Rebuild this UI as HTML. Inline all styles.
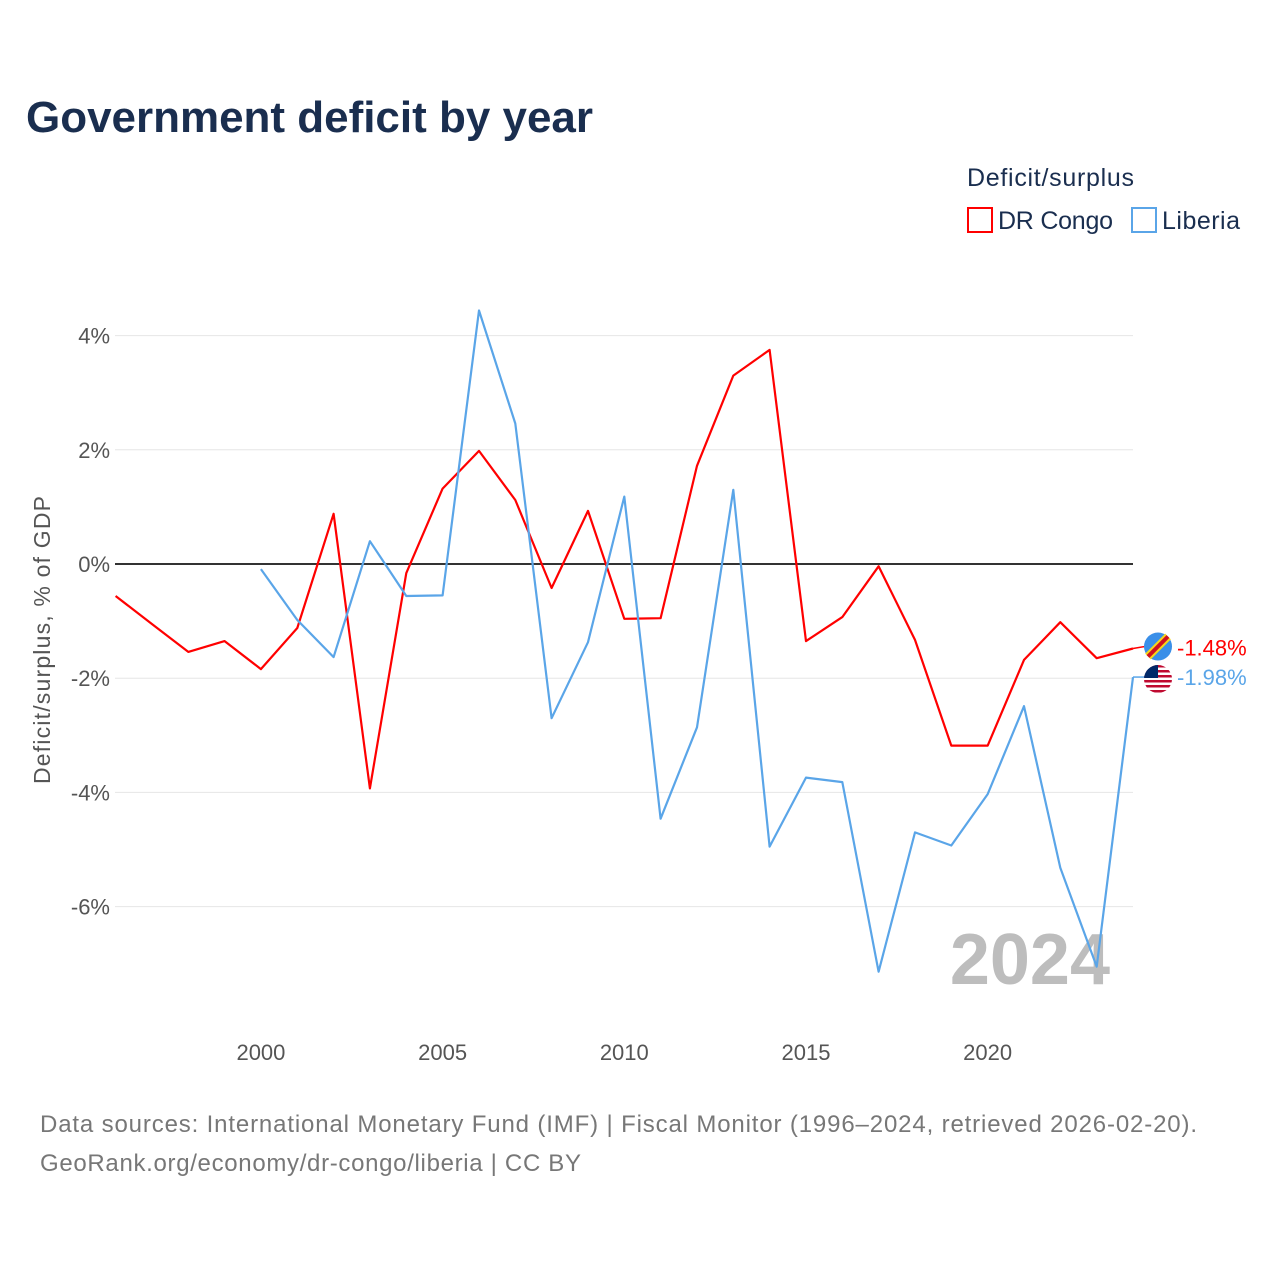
<!DOCTYPE html>
<html><head><meta charset="utf-8"><style>
body{margin:0;background:#fff;font-family:"Liberation Sans",sans-serif;}
</style></head><body>
<svg width="1280" height="1280" xmlns="http://www.w3.org/2000/svg" style="font-family:'Liberation Sans',sans-serif">
<defs><clipPath id="lbclip"><circle cx="1158" cy="679" r="14"/></clipPath></defs>
<rect width="1280" height="1280" fill="#fff"/>
<text x="26" y="132" font-size="44" font-weight="bold" fill="#1a2e4f" textLength="567">Government deficit by year</text>
<text x="967" y="186" font-size="25" fill="#1a2e4f" textLength="167">Deficit/surplus</text>
<g><rect x="968" y="208" width="24" height="24" fill="none" stroke="#ff0000" stroke-width="2"/><text x="998" y="229" font-size="25" fill="#1a2e4f" textLength="115">DR Congo</text></g>
<g><rect x="1132" y="208" width="24" height="24" fill="none" stroke="#5aa5e8" stroke-width="2"/><text x="1162" y="229" font-size="25" fill="#1a2e4f" textLength="78">Liberia</text></g>
<g id="grid"></g>
<text transform="translate(50,640) rotate(-90)" text-anchor="middle" font-size="23" fill="#555" textLength="288">Deficit/surplus, % of GDP</text>
<text x="1110" y="984" text-anchor="end" font-size="72" font-weight="bold" fill="#bdbdbd">2024</text>
<g id="series"></g>
<text x="40" y="1132" font-size="24" fill="#777" textLength="1157">Data sources: International Monetary Fund (IMF) | Fiscal Monitor (1996–2024, retrieved 2026-02-20).</text>
<text x="40" y="1171" font-size="24" fill="#777" textLength="541">GeoRank.org/economy/dr-congo/liberia | CC BY</text>
</svg>
<script>
const years=[1996,1997,1998,1999,2000,2001,2002,2003,2004,2005,2006,2007,2008,2009,2010,2011,2012,2013,2014,2015,2016,2017,2018,2019,2020,2021,2022,2023,2024];
const drCongo=[-0.56,-1.05,-1.54,-1.35,-1.84,-1.12,0.88,-3.93,-0.16,1.32,1.98,1.12,-0.42,0.93,-0.96,-0.95,1.72,3.30,3.75,-1.35,-0.93,-0.04,-1.33,-3.18,-3.18,-1.68,-1.02,-1.65,-1.48];
const liberia=[null,null,null,null,-0.09,-0.98,-1.63,0.40,-0.56,-0.55,4.44,2.46,-2.70,-1.37,1.18,-4.46,-2.86,1.30,-4.95,-3.74,-3.82,-7.14,-4.70,-4.93,-4.03,-2.49,-5.32,-7.05,-1.98];
const yTicks=[4,2,0,-2,-4,-6];
const xTicks=[2000,2005,2010,2015,2020];
const NS="http://www.w3.org/2000/svg";
const x=v=>115.6+(v-1996)*(1133-115.6)/28;
const y=v=>564-v*57.1;
function mk(t,a,p){const e=document.createElementNS(NS,t);for(const k in a)e.setAttribute(k,a[k]);p.appendChild(e);return e;}
const grid=document.getElementById('grid');
yTicks.forEach(t=>{
 const l=mk('line',{x1:115,x2:1133,y1:y(t),y2:y(t),stroke:t===0?'#333':'#e6e6e6','stroke-width':t===0?2:1},grid);
 
 
 const tx=mk('text',{x:110,y:y(t)+8,'text-anchor':'end','font-size':22,fill:'#555'},grid);
 tx.textContent=t+'%';
 
 
});
xTicks.forEach(t=>{
 const tx=mk('text',{x:x(t),y:1060,'text-anchor':'middle','font-size':22,fill:'#555'},grid);
 tx.textContent=t;
 
 
});
const s=document.getElementById('series');
function line(vals,color,name){
 let d='';vals.forEach((v,i)=>{if(v===null)return;d+=(d?'L':'M')+x(years[i]).toFixed(1)+','+y(v).toFixed(1);});
 const p=mk('path',{d:d,fill:'none',stroke:color,'stroke-width':2.2,'stroke-linejoin':'round'},s);
 
 
}
line(drCongo,'#ff0000','line-dr-congo');
line(liberia,'#5aa5e8','line-liberia');
const dl=drCongo[drCongo.length-1],ll=liberia[liberia.length-1];
const f1=mk('g',{},s);


mk('line',{x1:1133,x2:1145,y1:y(dl),y2:y(dl)-2,stroke:'#ff0000','stroke-width':1.5},f1);
mk('circle',{cx:1158,cy:y(dl)-2,r:14,fill:'#3a8fe8'},f1);
mk('line',{x1:1148,y1:y(dl)+8,x2:1168,y2:y(dl)-12,stroke:'#f7d618','stroke-width':8},f1);
mk('line',{x1:1148,y1:y(dl)+8,x2:1168,y2:y(dl)-12,stroke:'#ce1021','stroke-width':4},f1);
const t1=mk('text',{x:1177,y:y(dl)+7,'font-size':22,fill:'#ff0000'},s);
t1.textContent=dl.toFixed(2)+'%';


const f2=mk('g',{},s);


mk('line',{x1:1133,x2:1145,y1:y(ll),y2:y(ll),stroke:'#5aa5e8','stroke-width':1.5},f2);
const fg=mk('g',{'clip-path':'url(#lbclip)'},f2);
mk('rect',{x:1144,y:665,width:28,height:28,fill:'#fff'},fg);
for(let i=0;i<6;i++)mk('rect',{x:1144,y:665+i*5,width:28,height:2.5,fill:'#bf0a30'},fg);
mk('rect',{x:1144,y:665,width:14,height:13,fill:'#002868'},fg);
const t2=mk('text',{x:1177,y:y(ll)+8,'font-size':22,fill:'#5aa5e8'},s);
t2.textContent=ll.toFixed(2)+'%';


</script>
</body></html>
